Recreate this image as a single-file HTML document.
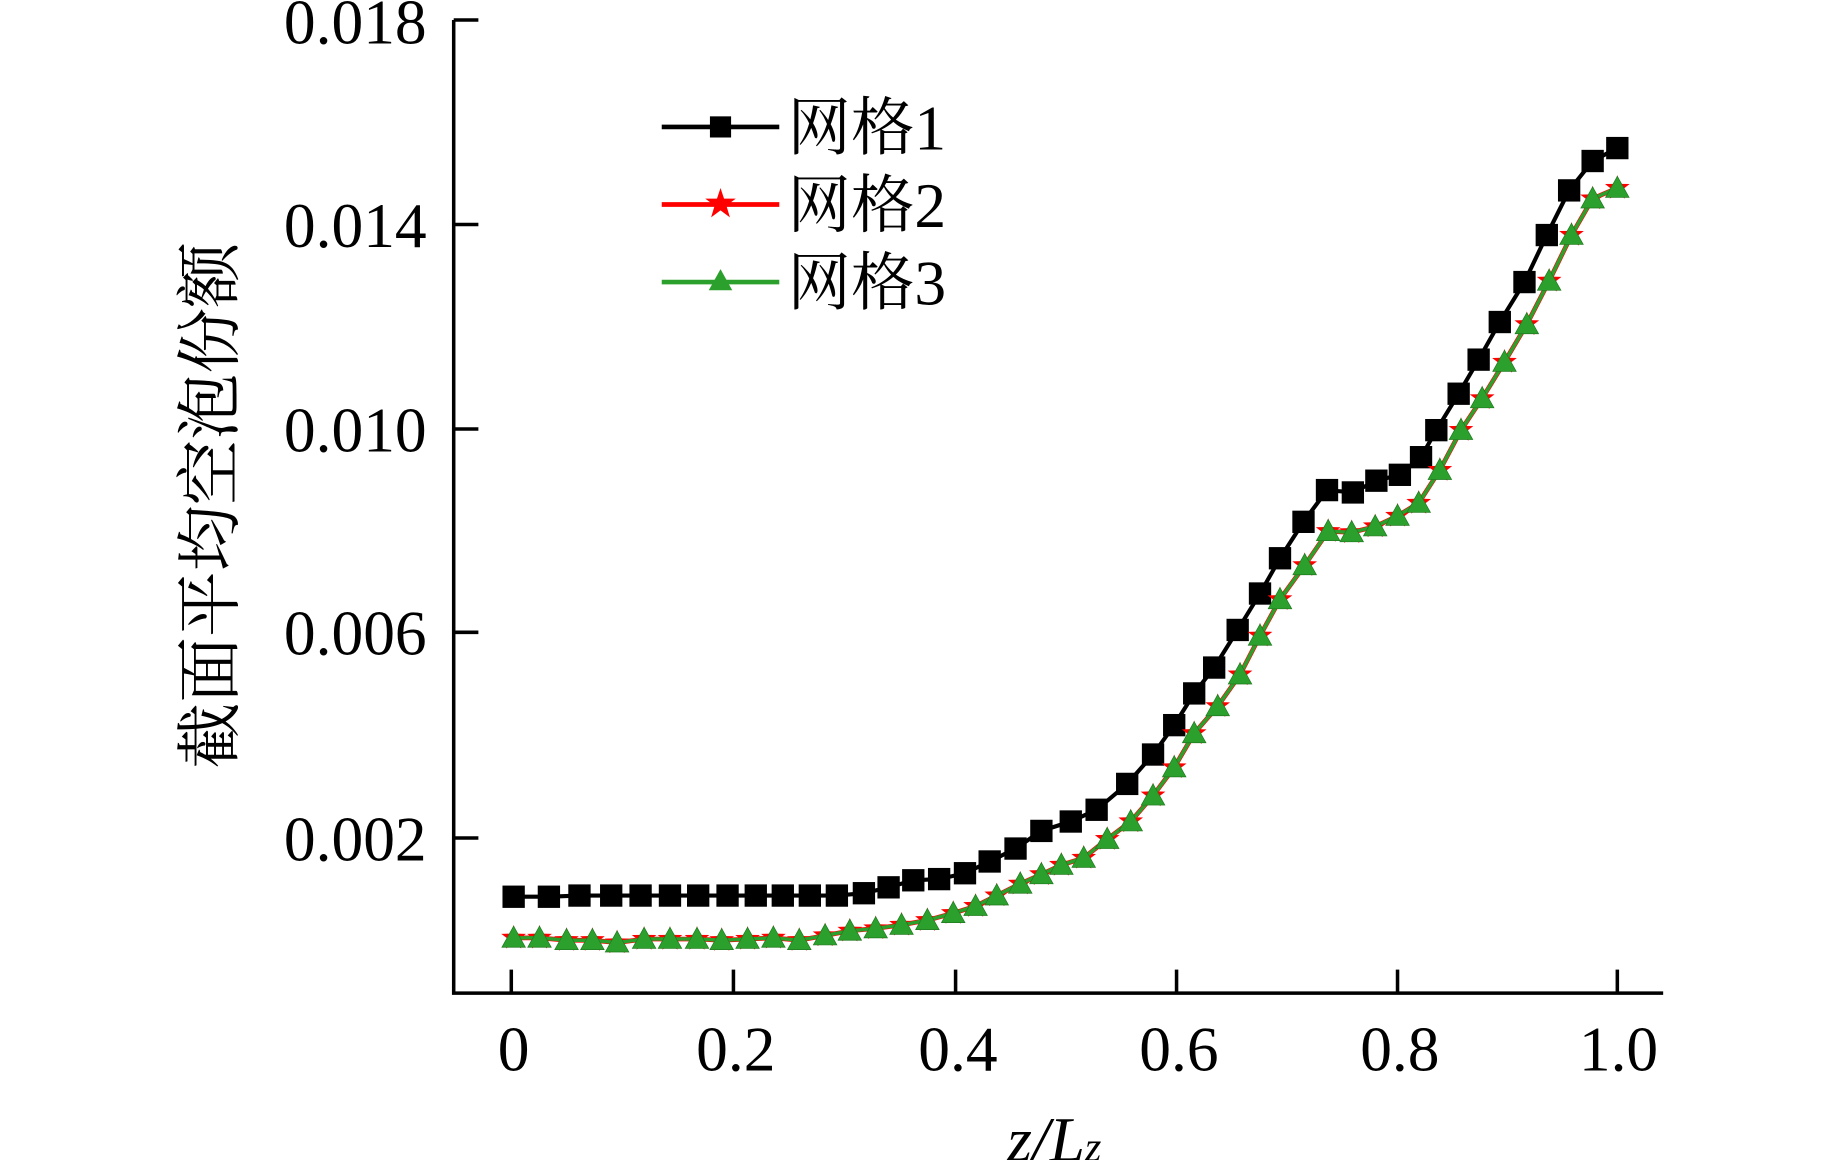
<!DOCTYPE html>
<html><head><meta charset="utf-8"><style>
html,body{margin:0;padding:0;background:#fff;}
svg{display:block;}
</style></head><body>
<svg width="1843" height="1160" viewBox="0 0 1568 987" preserveAspectRatio="none" xmlns="http://www.w3.org/2000/svg">
<defs>
<marker id="sq" markerUnits="userSpaceOnUse" markerWidth="22" markerHeight="22" refX="11" refY="11" viewBox="0 0 22 22"><rect x="1.5" y="1.5" width="19" height="19" fill="#000"/></marker>
<marker id="st" markerUnits="userSpaceOnUse" markerWidth="24" markerHeight="24" refX="12" refY="12" viewBox="0 0 24 24"><polygon points="12,1 14.6,8.4 22.5,8.6 16.2,13.4 18.5,21 12,16.5 5.5,21 7.8,13.4 1.5,8.6 9.4,8.4" fill="#f00"/></marker>
<marker id="tr" markerUnits="userSpaceOnUse" markerWidth="24" markerHeight="24" refX="12" refY="12" viewBox="0 0 24 24"><polygon points="12,2 22,20 2,20" fill="#2ca02c" stroke="#1e7a1e" stroke-width="0.6"/></marker>
</defs>
<g font-family="'Liberation Serif', serif" font-size="54" fill="#000">
<path d="M386,17 V845 H1415" fill="none" stroke="#000" stroke-width="3"/>
<g stroke="#000" stroke-width="3">
<line x1="386" y1="17" x2="407" y2="17"/>
<line x1="386" y1="191" x2="407" y2="191"/>
<line x1="386" y1="365" x2="407" y2="365"/>
<line x1="386" y1="538" x2="407" y2="538"/>
<line x1="386" y1="713" x2="407" y2="713"/>
<line x1="435" y1="845" x2="435" y2="825"/>
<line x1="624" y1="845" x2="624" y2="825"/>
<line x1="813" y1="845" x2="813" y2="825"/>
<line x1="1001" y1="845" x2="1001" y2="825"/>
<line x1="1189" y1="845" x2="1189" y2="825"/>
<line x1="1376" y1="845" x2="1376" y2="825"/>
</g>
<g text-anchor="end">
<text x="363" y="37">0.018</text>
<text x="363" y="210">0.014</text>
<text x="363" y="384">0.010</text>
<text x="363" y="557">0.006</text>
<text x="363" y="732">0.002</text>
</g>
<g text-anchor="middle">
<text x="437" y="911">0</text>
<text x="626" y="911">0.2</text>
<text x="815" y="911">0.4</text>
<text x="1003" y="911">0.6</text>
<text x="1191" y="911">0.8</text>
<text x="1377" y="911">1.0</text>
</g>
<text x="897" y="988" text-anchor="middle" font-style="italic">z/L<tspan font-size="36" font-style="italic">z</tspan></text>
<text transform="translate(198,430) rotate(-90)" text-anchor="middle" font-size="56" font-family="'Liberation Serif','Noto Serif CJK SC',serif">截面平均空泡份额</text>
</g>
<polyline fill="none" stroke="#000" stroke-width="3.5" marker-start="url(#sq)" marker-mid="url(#sq)" marker-end="url(#sq)" points="437,763 467,763 493,762 520,762 545,762 570,762 594,762 619,762 643,762 666,762 689,762 712,762 735,760 756,755 777,749 799,748 821,743 842,733 864,722 886,707 911,699 933,689 959,667 981,642 999,617 1016,590 1033,568 1053,536 1072,505 1089,475 1109,444 1129,417 1151,419 1171,409 1191,404 1209,389 1222,366 1241,335 1258,306 1276,274 1297,240 1316,200 1335,162 1355,137 1376,126"/>
<polyline fill="none" stroke="#f00" stroke-width="4" marker-start="url(#st)" marker-mid="url(#st)" marker-end="url(#st)" points="437,798 459,798 482,800 504,800 525,802 548,799 570,799 593,799 614,800 636,799 658,798 680,800 702,796 723,792 745,790 767,787 789,783 811,777 830,771 848,762 868,752 886,744 903,736 922,730 942,714 962,699 981,677 999,653 1016,624 1036,601 1055,574 1072,541 1089,510 1110,481 1130,452 1150,453 1170,448 1189,439 1207,428 1225,400 1243,366 1261,339 1280,308 1299,276 1318,239 1337,200 1355,169 1376,160"/>
<polyline fill="none" stroke="#2ca02c" stroke-width="3" marker-start="url(#tr)" marker-mid="url(#tr)" marker-end="url(#tr)" points="437,798 459,798 482,800 504,800 525,802 548,799 570,799 593,799 614,800 636,799 658,798 680,800 702,796 723,792 745,790 767,787 789,783 811,777 830,771 848,762 868,752 886,744 903,736 922,730 942,714 962,699 981,677 999,653 1016,624 1036,601 1055,574 1072,541 1089,510 1110,481 1130,452 1150,453 1170,448 1189,439 1207,428 1225,400 1243,366 1261,339 1280,308 1299,276 1318,239 1337,200 1355,169 1376,160"/>
<g font-family="'Liberation Serif','Noto Serif CJK SC',serif" font-size="54" fill="#000">
<line x1="563" y1="108" x2="663" y2="108" stroke="#000" stroke-width="4"/>
<rect x="604" y="99" width="18" height="18" fill="#000"/>
<text x="670" y="127">网格1</text>
<line x1="563" y1="174" x2="663" y2="174" stroke="#f00" stroke-width="4"/>
<polygon points="613,160 616,169 626,169 618,175 621,185 613,179 605,185 608,175 600,169 610,169" fill="#f00"/>
<text x="670" y="193">网格2</text>
<line x1="563" y1="240" x2="663" y2="240" stroke="#2ca02c" stroke-width="4"/>
<polygon points="613,229 623,247 603,247" fill="#2ca02c"/>
<text x="670" y="259">网格3</text>
</g>
</svg>
</body></html>
